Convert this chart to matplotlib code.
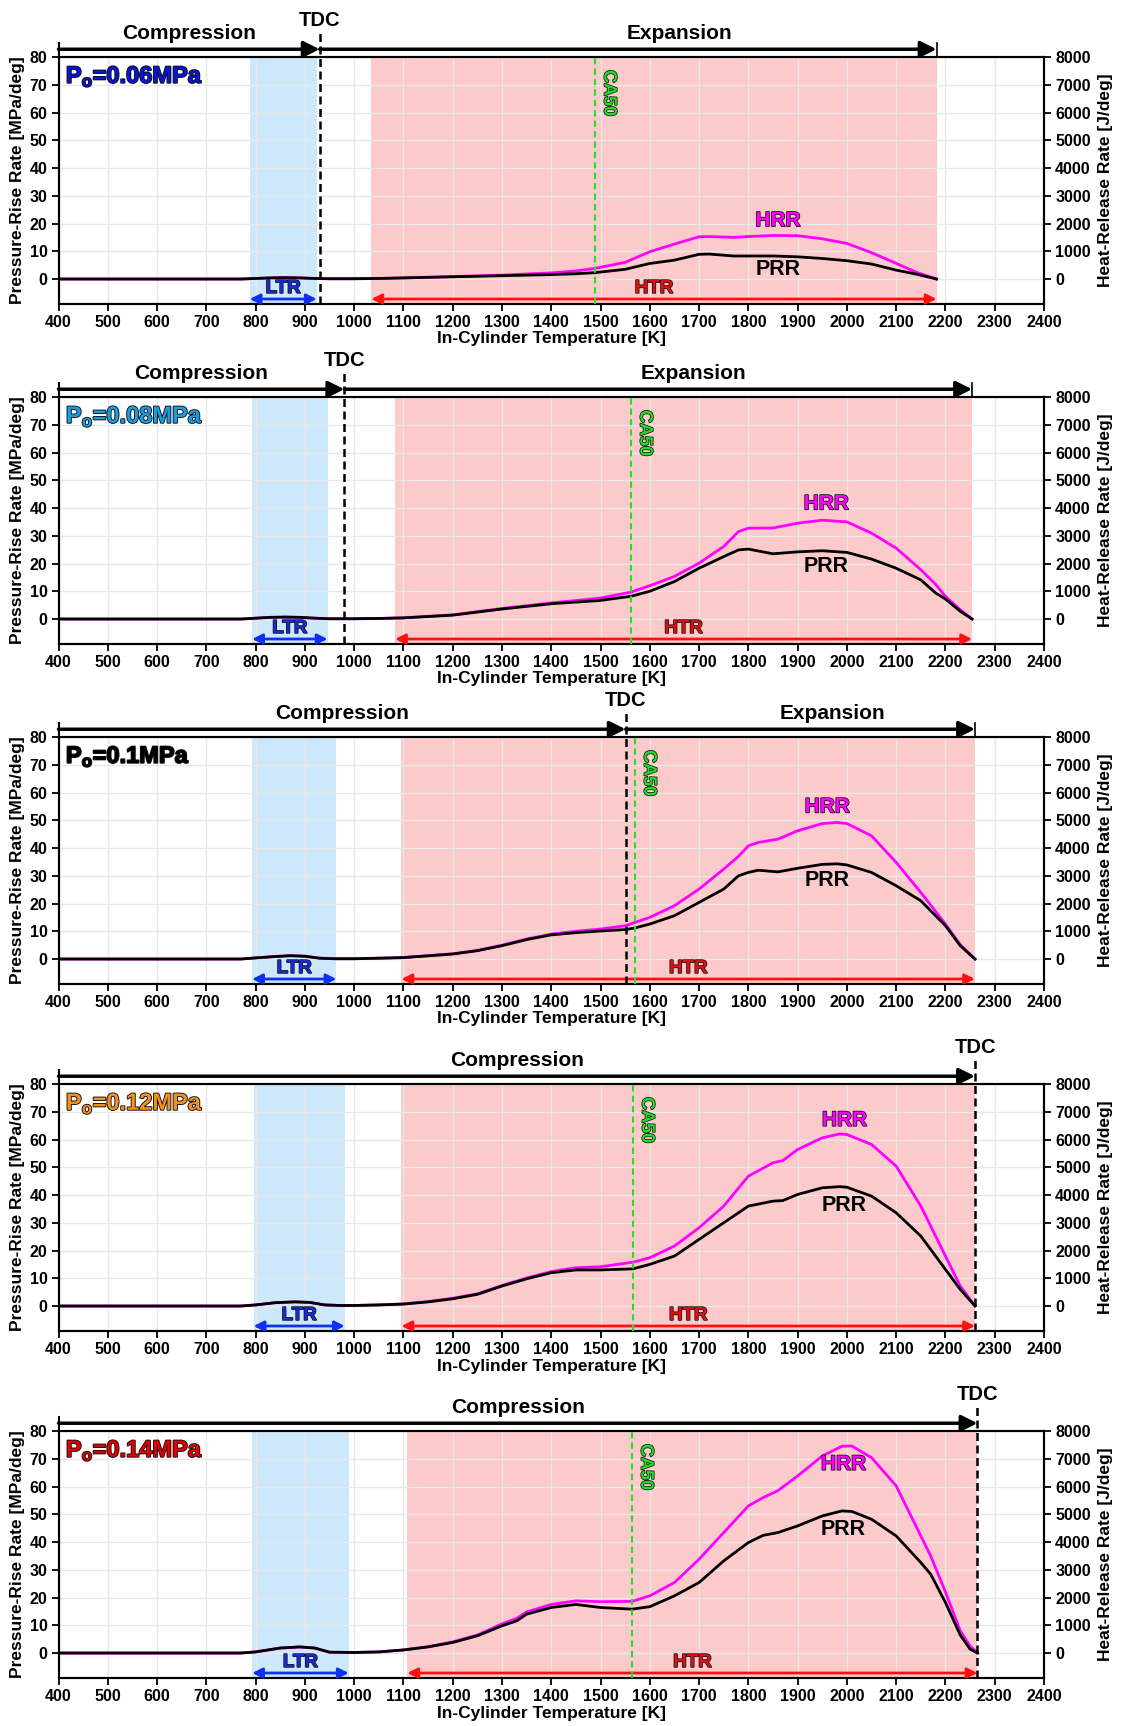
import matplotlib
matplotlib.use("Agg")
import matplotlib.pyplot as plt
import matplotlib.patheffects as pe

plt.rcParams['font.family'] = 'Liberation Sans'
plt.rcParams['font.weight'] = 'bold'
plt.rcParams['axes.labelweight'] = 'bold'
plt.rcParams['mathtext.fontset'] = 'custom'
plt.rcParams['mathtext.rm'] = 'Liberation Sans:bold'
plt.rcParams['mathtext.bf'] = 'Liberation Sans:bold'

# intake pressure cases
pressures = ['0.06', '0.08', '0.1', '0.12', '0.14']
label_colors = ['#0a14d2', '#1a9ee0', 'black', '#f39020', '#e00000']

# key temperatures [K]
tdc_temp = [930, 980, 1551, 2260, 2265]
ca50_temp = [1489, 1562, 1570, 1566, 1564]
ltr_range = [(788, 924), (793, 946), (793, 964), (796, 981), (793, 989)]
htr_range = [(1035, 2182), (1083, 2254), (1096, 2260), (1096, 2260), (1108, 2265)]

# Po = 0.06 MPa
T1 = [400, 600, 770, 800, 830, 860, 890, 920, 950, 1000, 1050, 1100, 1200, 1300, 1400, 1450,
      1489, 1550, 1600, 1650, 1700, 1720, 1770, 1800, 1850, 1900, 1950, 2000, 2050, 2100, 2140, 2182]
PRR1 = [0, 0, 0, 0.2, 0.4, 0.5, 0.4, 0.2, 0.1, 0.1, 0.2, 0.4, 0.8, 1.2, 1.6, 1.9,
        2.3, 3.5, 5.6, 6.8, 8.9, 9.0, 8.3, 8.3, 8.3, 8.0, 7.4, 6.6, 5.4, 3.2, 1.8, 0]
HRR1 = [0, 0, 0, 20, 40, 50, 40, 20, 10, 10, 20, 40, 90, 140, 220, 290,
        384, 600, 983, 1260, 1523, 1530, 1500, 1530, 1570, 1560, 1450, 1283, 950, 564, 250, 0]

# Po = 0.08 MPa
T2 = [400, 600, 770, 800, 830, 860, 890, 920, 950, 1000, 1050, 1100, 1200, 1300, 1400, 1500,
      1562, 1600, 1650, 1700, 1750, 1780, 1800, 1850, 1900, 1950, 2000, 2050, 2100, 2150,
      2180, 2200, 2230, 2254]
PRR2 = [0, 0, 0, 0.3, 0.6, 0.7, 0.6, 0.3, 0.1, 0.1, 0.2, 0.4, 1.4, 3.6, 5.5, 6.7,
        8.2, 10.0, 13.5, 18.3, 22.5, 24.9, 25.2, 23.5, 24.2, 24.6, 24.0, 21.6, 18.3, 14.1,
        9.4, 7.2, 2.8, 0]
HRR2 = [0, 0, 0, 30, 60, 70, 60, 30, 10, 10, 20, 45, 150, 380, 580, 755,
        970, 1200, 1535, 2014, 2614, 3150, 3273, 3280, 3453, 3561, 3500, 3094, 2554, 1775,
        1250, 815, 336, 0]

# Po = 0.1 MPa
T3 = [400, 600, 770, 800, 840, 870, 900, 930, 960, 1000, 1050, 1100, 1200, 1250, 1300, 1350,
      1400, 1450, 1500, 1551, 1570, 1600, 1650, 1700, 1750, 1780, 1800, 1820, 1860, 1900,
      1950, 1980, 2000, 2050, 2100, 2150, 2200, 2230, 2260]
PRR3 = [0, 0, 0, 0.4, 0.9, 1.2, 1.0, 0.3, 0.1, 0.1, 0.3, 0.5, 1.8, 3.0, 4.8, 7.0,
        8.7, 9.5, 10.1, 10.6, 11.2, 12.6, 15.6, 20.4, 25.2, 30.0, 31.2, 32.0, 31.4, 32.7,
        34.1, 34.3, 33.9, 31.2, 26.4, 21.0, 12.0, 4.8, 0]
HRR3 = [0, 0, 0, 40, 90, 120, 100, 30, 10, 10, 30, 55, 190, 310, 500, 720,
        900, 1000, 1080, 1200, 1320, 1500, 1920, 2520, 3240, 3700, 4080, 4200, 4320, 4620,
        4880, 4920, 4880, 4440, 3480, 2400, 1260, 520, 0]

# Po = 0.12 MPa
T4 = [400, 600, 770, 800, 840, 880, 910, 940, 970, 1000, 1050, 1100, 1150, 1200, 1250, 1300,
      1350, 1400, 1450, 1500, 1566, 1600, 1650, 1700, 1750, 1800, 1850, 1870, 1900, 1950,
      1985, 2000, 2050, 2100, 2150, 2200, 2230, 2260]
PRR4 = [0, 0, 0, 0.4, 1.2, 1.5, 1.3, 0.4, 0.2, 0.2, 0.4, 0.7, 1.5, 2.6, 4.2, 7.2,
        9.8, 12.0, 13.0, 13.0, 13.4, 15.0, 18.0, 24.0, 30.0, 36.0, 37.8, 38.0, 40.2, 42.6,
        43.0, 42.8, 39.6, 33.6, 25.2, 13.2, 6.0, 0]
HRR4 = [0, 0, 0, 40, 120, 150, 130, 40, 20, 20, 40, 75, 160, 280, 440, 740,
        1010, 1240, 1380, 1415, 1580, 1740, 2160, 2820, 3600, 4680, 5160, 5240, 5640, 6060,
        6200, 6180, 5820, 5040, 3600, 1800, 720, 0]

# Po = 0.14 MPa
T5 = [400, 600, 770, 800, 850, 890, 920, 950, 1000, 1050, 1100, 1150, 1200, 1250, 1300, 1330,
      1350, 1400, 1450, 1500, 1564, 1600, 1650, 1700, 1750, 1800, 1830, 1860, 1900, 1950,
      1990, 2010, 2050, 2100, 2150, 2170, 2200, 2230, 2250, 2265]
PRR5 = [0, 0, 0, 0.4, 1.8, 2.2, 1.8, 0.3, 0.2, 0.4, 1.1, 2.2, 3.8, 6.2, 9.8, 11.6,
        14.0, 16.4, 17.5, 16.4, 15.8, 16.7, 20.6, 25.4, 33.2, 39.8, 42.4, 43.4, 45.8, 49.4,
        51.2, 51.0, 48.2, 42.2, 32.6, 28.4, 18.2, 6.5, 1.4, 0]
HRR5 = [0, 0, 0, 40, 180, 220, 180, 30, 20, 40, 110, 230, 400, 650, 1050, 1250,
        1480, 1750, 1880, 1850, 1860, 2060, 2540, 3380, 4340, 5300, 5600, 5850, 6380, 7100,
        7450, 7460, 7040, 6020, 4220, 3500, 2200, 800, 250, 0]

temps = [T1, T2, T3, T4, T5]
prr = [PRR1, PRR2, PRR3, PRR4, PRR5]
hrr = [HRR1, HRR2, HRR3, HRR4, HRR5]

# label placement per panel
expansion_x = [1660, 1689, 1970, None, None]
hrr_label = [(1860, 2100), (1958, 4150), (1960, 5480), (1995, 6690), (1993, 6800)]
prr_label = [(1860, 3.5), (1958, 18.9), (1960, 28.2), (1995, 36.3), (1993, 44.4)]

W, H = 1126, 1726
tops = [57, 397, 737, 1084, 1431]
ax_h = 247
x0, x1 = 58.5, 1044

outline = [pe.withStroke(linewidth=1.3, foreground='#101010')]
thin_outline = [pe.withStroke(linewidth=1.1, foreground='#101010')]

fig = plt.figure(figsize=(W / 100, H / 100), dpi=100)

for i in range(5):
    ax = fig.add_axes([x0 / W, 1 - (tops[i] + ax_h) / H, (x1 - x0) / W, ax_h / H])
    ax2 = ax.twinx()
    ax.set_zorder(ax2.get_zorder() + 1)
    ax.patch.set_visible(False)

    ax.set_xlim(400, 2400)
    ax.set_ylim(-9, 80)
    ax2.set_ylim(-900, 8000)
    ax.set_xticks(range(400, 2401, 100))
    ax.set_yticks(range(0, 81, 10))
    ax2.set_yticks(range(0, 8001, 1000))

    # shaded regions and grid live on the twin axes (drawn underneath)
    ax2.axvspan(*ltr_range[i], color='#cce8fa', lw=0, zorder=0.2)
    ax2.axvspan(*htr_range[i], color='#fccaca', lw=0, zorder=0.2)
    ax2.xaxis.set_visible(True)
    ax2.tick_params(axis='x', which='both', bottom=False, top=False,
                    labelbottom=False, labeltop=False)
    ax2.grid(True, color='#e8e8e8', lw=1)

    ax2.plot(temps[i], hrr[i], color='#ff00ff', lw=2, zorder=2)
    ax.plot(temps[i], prr[i], color='black', lw=2, zorder=3)

    for a in (ax, ax2):
        for s in a.spines.values():
            s.set_linewidth(1.5)
        a.tick_params(direction='out', length=5, width=1.3, labelsize=11.5, pad=3)

    ax.set_xlabel('In-Cylinder Temperature [K]', fontsize=12.5, labelpad=1)
    ax.set_ylabel('Pressure-Rise Rate [MPa/deg]', fontsize=12.5, labelpad=3)
    ax2.set_ylabel('Heat-Release Rate [J/deg]', fontsize=12.5, labelpad=5)

    # TDC and CA50 markers
    tdc = tdc_temp[i]
    ax.plot([tdc, tdc], [-9, 89], color='black', lw=1.8, dashes=(3.2, 1.8),
            clip_on=False, zorder=4)
    ax.text(tdc, 93, 'TDC', fontsize=14.5, ha='center', va='center')
    ax.plot([ca50_temp[i]] * 2, [-9, 80], color='#22e022', lw=1.5, dashes=(3, 2), zorder=4)
    ax.text(ca50_temp[i] + 28, 67, 'CA50', fontsize=13, color='#22e022', rotation=-90,
            ha='center', va='center', path_effects=thin_outline)

    # stroke phase arrows above the plot
    head = '-|>,head_length=0.6,head_width=0.3'
    ax.annotate('', xy=(tdc, 82.8), xytext=(400, 82.8), annotation_clip=False,
                arrowprops=dict(arrowstyle=head, color='black', lw=2.5,
                                mutation_scale=16, shrinkA=0, shrinkB=0))
    ax.plot([400, 400], [80, 85], color='black', lw=1.5, clip_on=False)
    ax.text((400 + tdc) / 2, 88.4, 'Compression', fontsize=15, ha='center', va='center')
    if expansion_x[i] is not None:
        end = htr_range[i][1]
        ax.annotate('', xy=(end, 82.8), xytext=(tdc, 82.8), annotation_clip=False,
                    arrowprops=dict(arrowstyle=head, color='black', lw=2.5,
                                    mutation_scale=16, shrinkA=0, shrinkB=0))
        ax.plot([end, end], [80, 85], color='black', lw=1.2, clip_on=False)
        ax.text(expansion_x[i], 88.4, 'Expansion', fontsize=15, ha='center', va='center')

    # LTR / HTR spans
    both = '<|-|>,head_length=0.5,head_width=0.25'
    lo, hi = ltr_range[i]
    ax.annotate('', xy=(hi, -7.2), xytext=(lo, -7.2),
                arrowprops=dict(arrowstyle=both, color='#1030f0', lw=2,
                                mutation_scale=12, shrinkA=0, shrinkB=0))
    ax.text((lo + hi) / 2, -3.4, 'LTR', fontsize=13.5, color='#1a2ad8',
            ha='center', va='center', path_effects=thin_outline)
    lo, hi = htr_range[i]
    ax.annotate('', xy=(hi, -7.2), xytext=(lo, -7.2),
                arrowprops=dict(arrowstyle=both, color='#ff1010', lw=2,
                                mutation_scale=12, shrinkA=0, shrinkB=0))
    ax.text((lo + hi) / 2, -3.4, 'HTR', fontsize=13.5, color='#e01010',
            ha='center', va='center', path_effects=thin_outline)

    # curve names
    ax2.text(*hrr_label[i], 'HRR', fontsize=15, color='#ff00ff', ha='center',
             va='center', path_effects=thin_outline, zorder=5)
    ax.text(*prr_label[i], 'PRR', fontsize=15.5, color='black', ha='center', va='center')

    ax.text(415, 73, r'P$_\mathregular{o}$=' + pressures[i] + 'MPa', fontsize=17,
            color=label_colors[i], ha='left', va='center', path_effects=outline)

fig.savefig('out.png', dpi=100)
